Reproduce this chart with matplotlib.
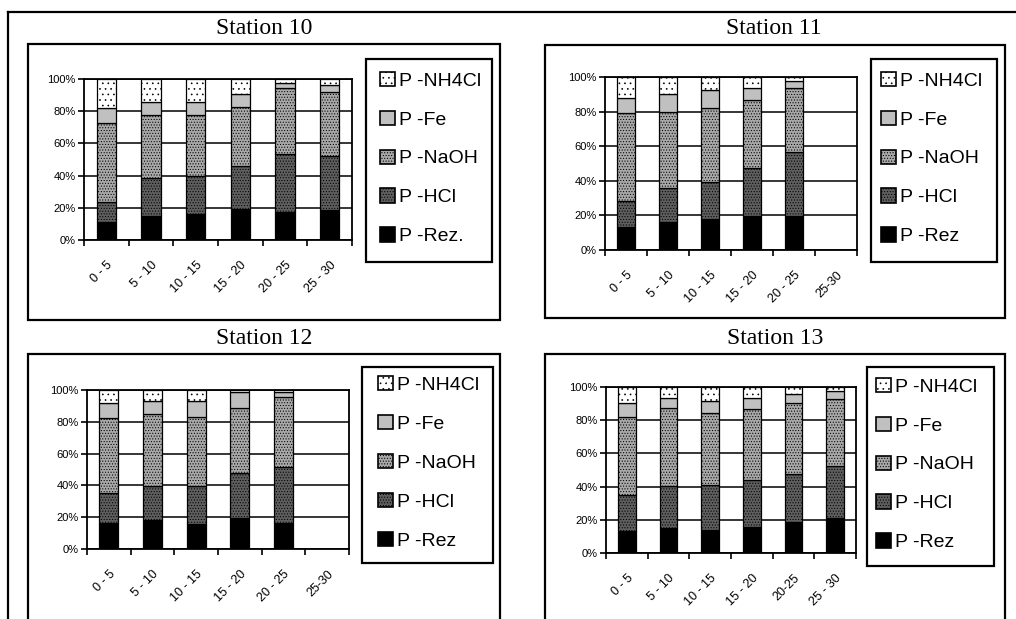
import matplotlib
matplotlib.use("Agg")
import matplotlib.pyplot as plt
from matplotlib.patches import Rectangle, Patch
from matplotlib.lines import Line2D
from matplotlib.transforms import ScaledTranslation
import numpy as np

plt.rcParams['font.family'] = ['Liberation Sans', 'DejaVu Sans']
plt.rcParams['hatch.linewidth'] = 0.45

W, H = 1016, 619

# ---------------- data ----------------
components = ['Rez', 'HCl', 'NaOH', 'Fe', 'NH4Cl']

titles = ['Station 10', 'Station 11', 'Station 12', 'Station 13']

categories_10 = ['0 - 5', '5 - 10', '10 - 15', '15 - 20', '20 - 25', '25 - 30']
categories_11 = ['0 - 5', '5 - 10', '10 - 15', '15 - 20', '20 - 25', '25-30']
categories_12 = ['0 - 5', '5 - 10', '10 - 15', '15 - 20', '20 - 25', '25-30']
categories_13 = ['0 - 5', '5 - 10', '10 - 15', '15 - 20', '20-25', '25 - 30']

labels_10 = ['P -Rez.', 'P -HCl', 'P -NaOH', 'P -Fe', 'P -NH4Cl']
labels_11 = ['P -Rez', 'P -HCl', 'P -NaOH', 'P -Fe', 'P -NH4Cl']
labels_12 = ['P -Rez', 'P -HCl', 'P -NaOH', 'P -Fe', 'P -NH4Cl']
labels_13 = ['P -Rez', 'P -HCl', 'P -NaOH', 'P -Fe', 'P -NH4Cl']

# Station 10 (%)
rez_10   = [11.0, 14.7, 15.9, 19.4, 17.4, 18.6]
hcl_10   = [12.8, 24.1, 24.0, 26.3, 36.1, 33.7]
naoh_10  = [48.7, 38.9, 37.8, 37.2, 40.7, 39.8]
fe_10    = [9.3, 7.8, 8.3, 7.8, 3.3, 3.9]
nh4cl_10 = [18.2, 14.5, 14.0, 9.3, 2.5, 4.0]

# Station 11 (%) - no data for 25-30
rez_11   = [13.5, 16.0, 17.9, 19.6, 19.6, 0]
hcl_11   = [15.0, 19.6, 21.5, 27.9, 37.1, 0]
naoh_11  = [50.7, 44.2, 42.9, 39.4, 37.1, 0]
fe_11    = [8.7, 10.2, 10.0, 6.9, 3.7, 0]
nh4cl_11 = [12.1, 10.0, 7.7, 6.2, 2.5, 0]

# Station 12 (%) - no data for 25-30
rez_12   = [16.6, 18.2, 15.5, 19.3, 16.6, 0]
hcl_12   = [18.4, 21.4, 24.1, 28.7, 35.2, 0]
naoh_12  = [47.2, 45.3, 43.6, 40.5, 44.0, 0]
fe_12    = [9.4, 8.4, 10.1, 10.0, 2.7, 0]
nh4cl_12 = [8.4, 6.7, 6.7, 1.5, 1.5, 0]

# Station 13 (%)
rez_13   = [13.4, 15.0, 14.0, 15.6, 18.4, 21.0]
hcl_13   = [21.6, 25.4, 27.0, 28.4, 29.2, 31.6]
naoh_13  = [47.0, 47.2, 43.4, 43.0, 43.0, 40.0]
fe_13    = [8.6, 5.8, 7.0, 6.4, 5.4, 5.0]
nh4cl_13 = [9.4, 6.6, 8.6, 6.6, 4.0, 2.4]

yticks = [0, 20, 40, 60, 80, 100]
ytick_labels = ['0%', '20%', '40%', '60%', '80%', '100%']

# ---------------- styles ----------------
styles = [
    dict(facecolor='black', hatch=None),
    dict(facecolor='#5e5e5e', hatch='......'),
    dict(facecolor='#a8a8a8', hatch='......'),
    dict(facecolor='#c0c0c0', hatch=None),
    dict(facecolor='white', hatch='...'),
]


def fig_rect(x0, y0, x1, y1):
    return [x0 / W, 1 - y1 / H, (x1 - x0) / W, (y1 - y0) / H]


fig = plt.figure(figsize=(W / 100, H / 100), dpi=100)

# outer frame (left and top lines)
fig.add_artist(Line2D([8 / W, 8 / W], [0, 1 - 12 / H], transform=fig.transFigure,
                      color='black', lw=1.6))
fig.add_artist(Line2D([8 / W, 1], [1 - 12 / H, 1 - 12 / H], transform=fig.transFigure,
                      color='black', lw=1.6))

panels = [
    dict(title=titles[0], cats=categories_10, labels=labels_10,
         data=[rez_10, hcl_10, naoh_10, fe_10, nh4cl_10],
         box=(28, 44, 500, 320), tpos=(264, 28),
         plot=(84, 79, 352, 240), leg=(366, 59, 492, 262), legx=14),
    dict(title=titles[1], cats=categories_11, labels=labels_11,
         data=[rez_11, hcl_11, naoh_11, fe_11, nh4cl_11],
         box=(545, 45, 1005, 318), tpos=(774, 28),
         plot=(605, 77, 857, 250), leg=(871, 59, 997, 262), legx=10),
    dict(title=titles[2], cats=categories_12, labels=labels_12,
         data=[rez_12, hcl_12, naoh_12, fe_12, nh4cl_12],
         box=(28, 354, 500, 625), tpos=(264, 338),
         plot=(87, 390, 349, 549), leg=(362, 367, 493, 563), legx=16),
    dict(title=titles[3], cats=categories_13, labels=labels_13,
         data=[rez_13, hcl_13, naoh_13, fe_13, nh4cl_13],
         box=(545, 354, 1005, 625), tpos=(775, 338),
         plot=(606, 387, 856, 553), leg=(867, 367, 994, 566), legx=9),
]

for p in panels:
    # panel box
    bx = fig_rect(*p['box'])
    fig.add_artist(Rectangle((bx[0], bx[1]), bx[2], bx[3], transform=fig.transFigure,
                             fill=False, edgecolor='black', lw=1.6))
    # title
    fig.text(p['tpos'][0] / W, 1 - p['tpos'][1] / H, p['title'], ha='center', va='center',
             fontsize=17, family=['Liberation Serif', 'DejaVu Serif'])

    ax = fig.add_axes(fig_rect(*p['plot']))
    x = np.arange(len(p['cats']))
    bottom = np.zeros(len(p['cats']))
    handles = []
    for vals, st, lab in zip(p['data'], styles, p['labels']):
        v = np.array(vals, dtype=float)
        mask = v > 0
        ax.bar(x[mask], v[mask], bottom=bottom[mask], width=0.43,
               facecolor=st['facecolor'], hatch=st['hatch'],
               edgecolor='black', linewidth=0.9, zorder=3)
        bottom = bottom + v
        handles.append(Patch(facecolor=st['facecolor'], hatch=st['hatch'],
                             edgecolor='black', linewidth=1.2, label=lab))

    ax.set_xlim(-0.5, len(p['cats']) - 0.5)
    ax.set_ylim(0, 100)
    ax.set_yticks(yticks)
    ax.set_yticklabels(ytick_labels, fontsize=8)
    ax.set_xticks(x)
    ax.set_xticklabels(p['cats'], fontsize=9, rotation=45, ha='right',
                       rotation_mode='anchor')
    offset = ScaledTranslation(-7 / 100, 0, fig.dpi_scale_trans)
    for lbl in ax.get_xticklabels():
        lbl.set_transform(lbl.get_transform() + offset)
    ax.tick_params(axis='x', which='major', length=0, pad=14)
    ax.set_xticks(np.arange(-0.5, len(p['cats'])), minor=True)
    ax.tick_params(axis='x', which='minor', length=4, width=1.2, direction='out')
    ax.tick_params(axis='y', length=4, width=1.2, direction='out', pad=2)
    ax.yaxis.grid(True, color='black', lw=1.1, zorder=0)
    ax.set_axisbelow(True)
    for s in ax.spines.values():
        s.set_linewidth(1.3)
        s.set_color('black')

    # legend frame
    lx = fig_rect(*p['leg'])
    fig.add_artist(Rectangle((lx[0], lx[1]), lx[2], lx[3], transform=fig.transFigure,
                             fill=False, edgecolor='black', lw=1.6))
    fig.legend(handles=handles[::-1], loc='center left',
               bbox_to_anchor=((p['leg'][0] + p['legx']) / W,
                               1 - ((p['leg'][1] + p['leg'][3]) / 2 - 2) / H),
               frameon=False, fontsize=14, handlelength=0.75, handleheight=0.75,
               handletextpad=0.25, labelspacing=1.08, borderpad=0, borderaxespad=0)

fig.savefig('out.png', dpi=100)
